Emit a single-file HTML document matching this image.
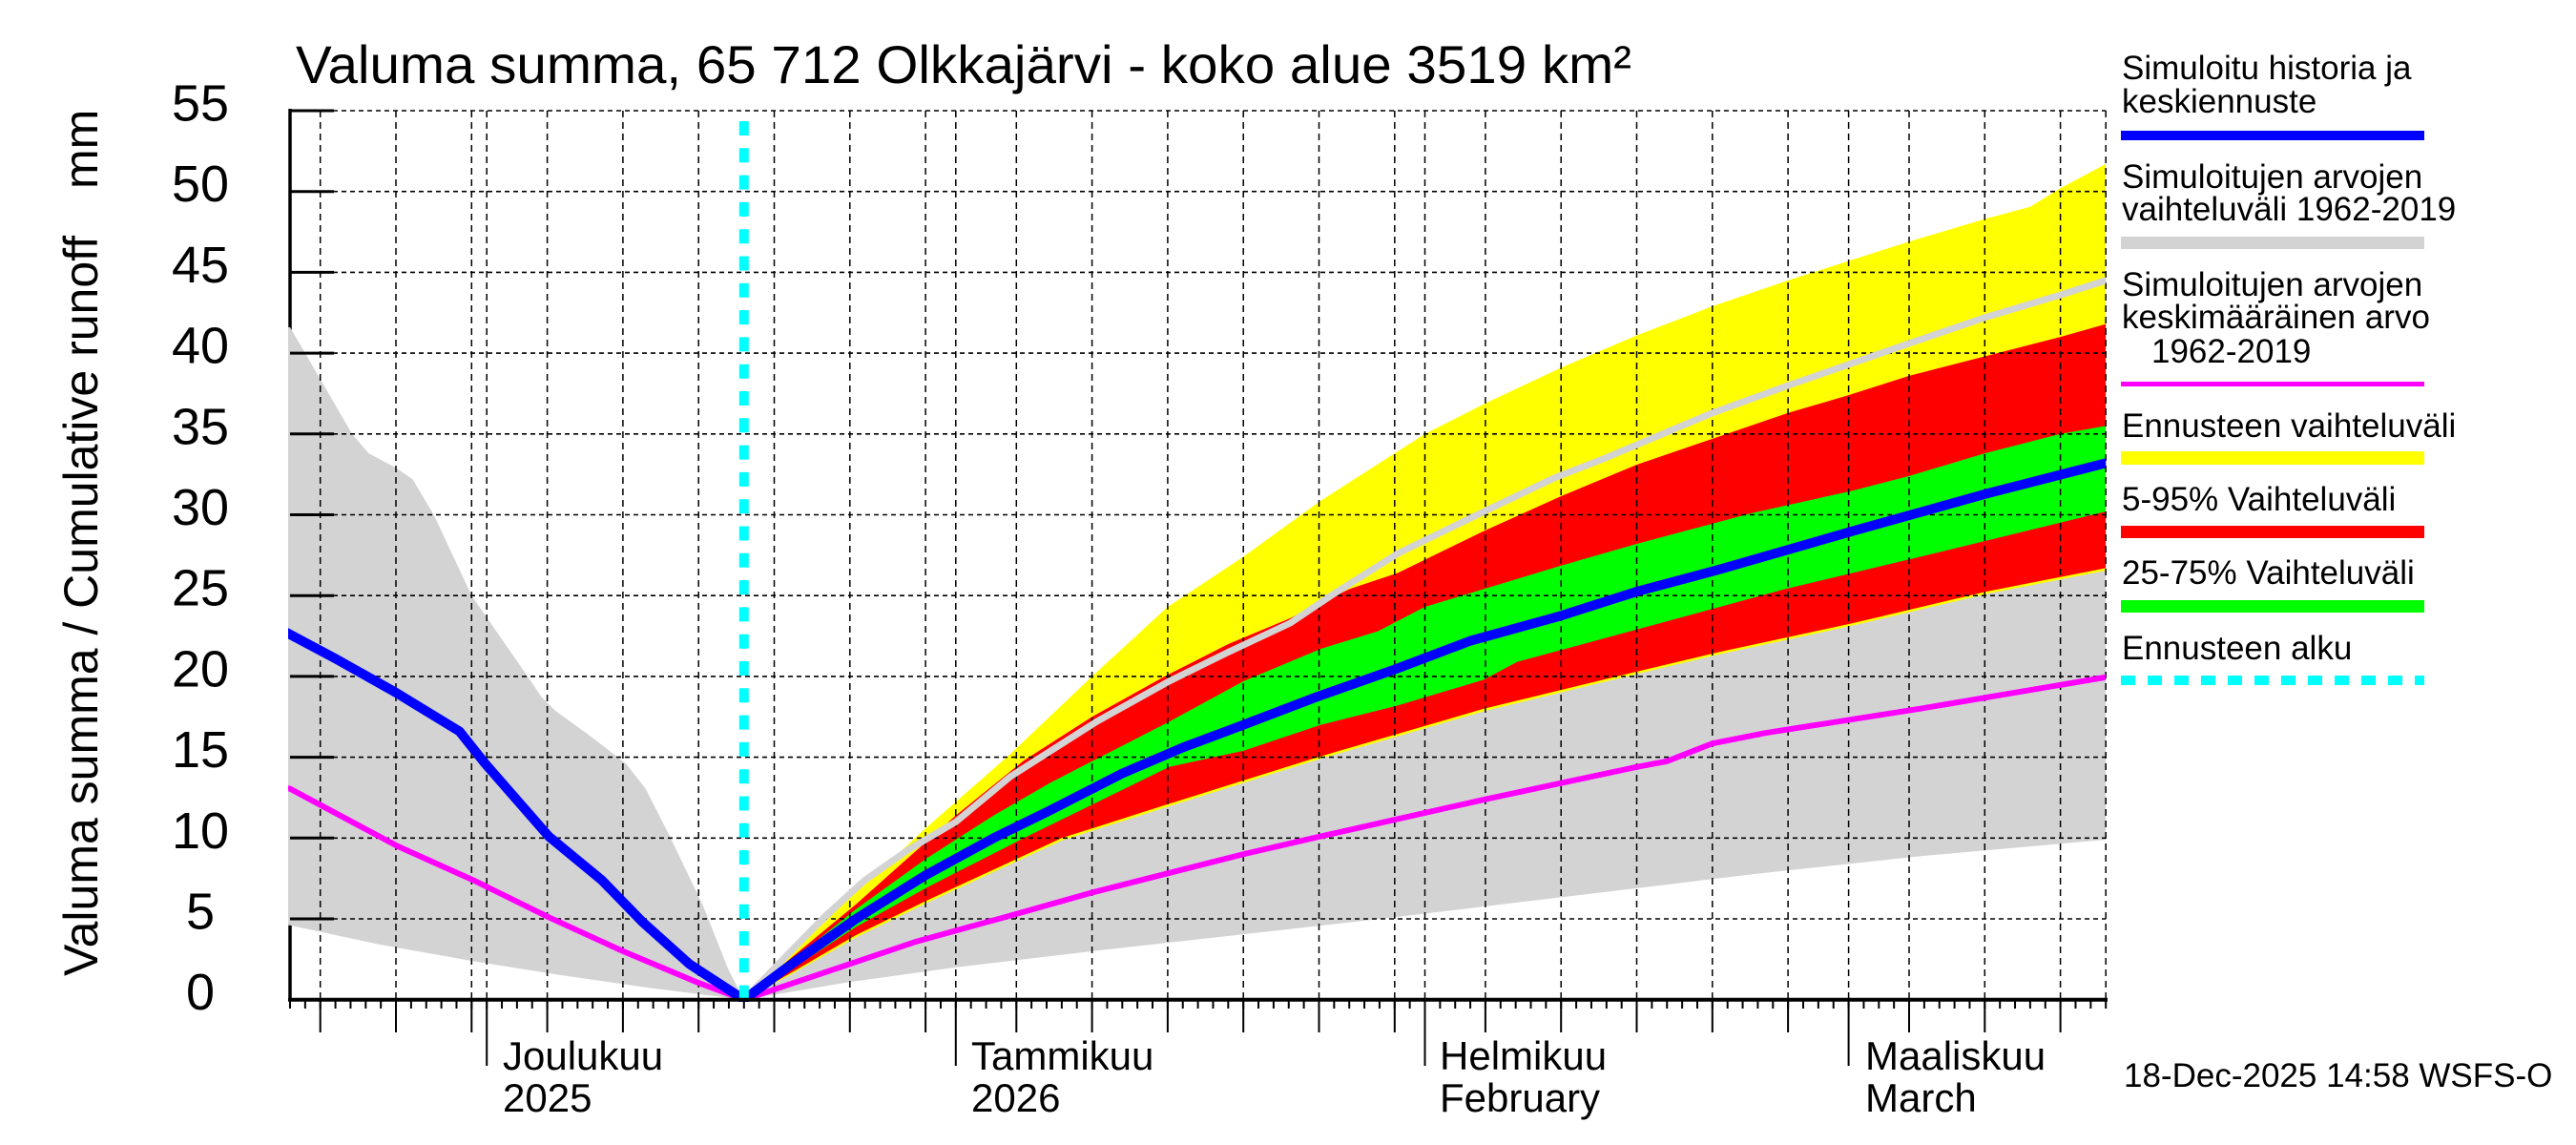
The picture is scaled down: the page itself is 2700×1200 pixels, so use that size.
<!DOCTYPE html>
<html><head><meta charset="utf-8">
<style>
html,body{margin:0;padding:0;background:#fff;}
svg{display:block;}
text{font-family:"Liberation Sans",Arial,Helvetica,sans-serif;fill:#000;}
</style></head>
<body>
<svg width="2700" height="1200" viewBox="0 0 2700 1200" xmlns="http://www.w3.org/2000/svg">
<rect width="2700" height="1200" fill="#fff"/>
<defs><clipPath id="pc"><rect x="302" y="100" width="1905.2" height="950"/></clipPath></defs>

<!-- left axis line (beneath fills) -->
<line x1="304" y1="114" x2="304" y2="1049" stroke="#000" stroke-width="3.5"/>

<!-- fills -->
<g clip-path="url(#pc)">
<g transform="translate(304,1047.7) scale(15.86,-16.94)">
<polygon fill="#d3d3d3" points="-0.2,41.6 0,41.6 1,40 4.1,35 5.2,33.8 7,32.9 8.1,32.2 9.5,30 12,25 15.7,20 16.6,18.75 17.5,17.9 20,16.2 22.2,14.6 23.5,13.05 25.1,10.1 27.3,5.8 29,1.8 30,0 33,2.9 35.4,5.2 38,7.4 40.9,9.3 44,11.0 47.6,13.8 53.3,17.2 58.1,19.7 62,21.5 66.1,23.3 68.8,25.0 73.2,27.6 78.9,30.2 83.6,32.3 86.9,33.5 94,36.3 99,38.0 107,40.6 112,42.2 117,43.6 120,44.5 120,9.9 108,8.9 97,7.8 81,6.0 73,5.1 63.5,4.1 53,3.0 44,2.0 37,1.1 30,0 24,0.7 18,1.5 12,2.4 6,3.4 0,4.6 -0.2,4.6"/>
<polygon fill="#ffff00" points="30,0 33,2.7 36.9,6.2 42,10.6 47.6,15.2 53,20.0 58,24.3 63,27.4 68,30.8 72,33.2 75,35.0 79,36.9 84,39.1 89,41.1 94,42.9 99,44.5 103,45.7 107,46.9 112,48.3 115,49.05 117,50.2 120,51.7 120,26.55 112.1,25.1 103.3,23.15 94.4,21.35 89,20.15 78.9,17.85 67.9,14.85 57.7,11.85 51,9.85 42,5.95 37.4,3.85 33,1.5 30,0"/>
<polygon fill="#ff0000" points="30,0 33,2.5 37.4,5.9 41,8.9 44,11.4 48.5,14.8 53,17.5 57.8,20 62,22 66.1,23.6 70,25.4 73.2,26.4 78.9,29.0 84,31.15 89,33.1 94,34.7 99,36.3 103,37.4 107,38.6 112,39.8 117,41.0 120,41.8 120,26.7 112.1,25.25 103.3,23.3 94.4,21.5 89,20.3 78.9,18.0 67.9,15.0 57.7,12.0 51,10 42,6.1 37.4,4.0 33,1.6 30,0"/>
<polygon fill="#00ff00" points="30,0 33,2.3 37.4,5.6 42,8.7 46.5,11.4 50.2,13.4 58.1,17.2 63,19.7 68.1,21.7 71.9,22.8 75,24.3 83.8,26.8 89,28.2 96.6,30.1 103.3,31.5 107,32.4 112,33.8 117,35.0 120,35.5 120,30.2 109.5,27.8 98.8,25.4 89,22.9 81.1,20.9 78.9,19.8 73.2,18.2 68.1,17.0 63,15.4 58.1,14.4 48.5,10 42,6.9 37.4,4.5 33,1.8 30,0"/>
</g>
</g>

<!-- grid -->
<path fill="none" stroke="#000" stroke-width="1.6" stroke-dasharray="5 4" d="M304 963H2207.2M304 878.3H2207.2M304 793.6H2207.2M304 708.9H2207.2M304 624.2H2207.2M304 539.5H2207.2M304 454.8H2207.2M304 370.1H2207.2M304 285.4H2207.2M304 200.7H2207.2M304 116H2207.2"/>
<path fill="none" stroke="#000" stroke-width="1.5" stroke-dasharray="7 5" d="M335.7 116V1047M415 116V1047M494.3 116V1047M510.2 116V1047M573.6 116V1047M652.9 116V1047M732.2 116V1047M811.5 116V1047M890.8 116V1047M970.1 116V1047M1001.8 116V1047M1065.3 116V1047M1144.6 116V1047M1223.9 116V1047M1303.2 116V1047M1382.5 116V1047M1461.8 116V1047M1493.5 116V1047M1556.9 116V1047M1636.2 116V1047M1715.5 116V1047M1794.8 116V1047M1874.1 116V1047M1937.6 116V1047M2001 116V1047M2080.3 116V1047M2159.6 116V1047M2207.2 116V1047"/>

<!-- lines -->
<g clip-path="url(#pc)">
<g transform="translate(304,1047.7) scale(15.86,-16.94)" fill="none" stroke-linejoin="round" stroke-linecap="round">
<polyline vector-effect="non-scaling-stroke" stroke="#d3d3d3" stroke-width="7" points="30,0 33,2.9 35.4,5.2 38,7.4 40.9,9.3 44,11.0 47.6,13.8 53.3,17.2 58.1,19.7 62,21.5 66.1,23.3 68.8,25.0 73.2,27.6 78.9,30.2 83.6,32.3 86.9,33.5 94,36.3 99,38.0 107,40.6 112,42.2 117,43.6 120,44.5"/>
<polyline vector-effect="non-scaling-stroke" stroke="#ff00ff" stroke-width="6" points="-0.3,13.1 0,13.05 2.1,12 7.1,9.5 12.1,7.4 17.1,5.1 22,3.0 27,1.04 30,0 41.4,3.6 47.6,5.2 53.1,6.65 63,9.0 68.1,10.1 79,12.4 89,14.4 91,14.75 94,15.85 97.5,16.5 107.7,18.0 120,19.95"/>
<polyline vector-effect="non-scaling-stroke" stroke="#0000ff" stroke-width="10" points="-0.3,22.75 0,22.6 3,21.1 7,19.0 11.2,16.6 12.9,14.6 17.1,10.1 20.6,7.4 23.3,4.8 26.4,2.2 30,0 33,2.1 37.4,5 42,7.7 46.5,10 50.2,11.7 55,14.0 59,15.6 63,17.0 67.9,18.75 73.2,20.5 78,22.2 83.8,23.7 89,25.25 94.4,26.6 103.3,29.0 112.1,31.3 120,33.2"/>
</g>
</g>

<!-- forecast start -->
<line x1="779.8" y1="127" x2="779.8" y2="1047" stroke="#00ffff" stroke-width="10" stroke-dasharray="15 13.3"/>

<!-- axes & ticks -->
<line x1="302" y1="1047.7" x2="2209" y2="1047.7" stroke="#000" stroke-width="4"/>
<path fill="none" stroke="#000" stroke-width="3" d="M304 963H350M304 878.3H350M304 793.6H350M304 708.9H350M304 624.2H350M304 539.5H350M304 454.8H350M304 370.1H350M304 285.4H350M304 200.7H350M304 116H350"/>
<line x1="303" y1="1053" x2="2209" y2="1053" stroke="#000" stroke-width="8" stroke-dasharray="2 13.86"/>
<path fill="none" stroke="#000" stroke-width="2" d="M335.7 1049V1082M415 1049V1082M494.3 1049V1082M573.6 1049V1082M652.9 1049V1082M732.2 1049V1082M811.5 1049V1082M890.8 1049V1082M970.1 1049V1082M1065.3 1049V1082M1144.6 1049V1082M1223.9 1049V1082M1303.2 1049V1082M1382.5 1049V1082M1461.8 1049V1082M1556.9 1049V1082M1636.2 1049V1082M1715.5 1049V1082M1794.8 1049V1082M1874.1 1049V1082M2001 1049V1082M2080.3 1049V1082M2159.6 1049V1082"/>
<path fill="none" stroke="#000" stroke-width="2" d="M510.2 1049V1117M1001.8 1049V1117M1493.5 1049V1117M1937.6 1049V1117"/>

<!-- title -->
<text x="310" y="87" font-size="56" textLength="1400" lengthAdjust="spacingAndGlyphs">Valuma summa, 65 712 Olkkajärvi - koko alue 3519 km²</text>

<!-- y tick labels -->
<g font-size="54" text-anchor="middle">
<text x="210" y="1058">0</text>
<text x="210" y="973.5">5</text>
<text x="210" y="888.8">10</text>
<text x="210" y="804.1">15</text>
<text x="210" y="719.4">20</text>
<text x="210" y="634.7">25</text>
<text x="210" y="550">30</text>
<text x="210" y="465.3">35</text>
<text x="210" y="380.6">40</text>
<text x="210" y="295.9">45</text>
<text x="210" y="211.2">50</text>
<text x="210" y="126.5">55</text>
</g>

<!-- y axis label -->
<text transform="translate(102,1023) rotate(-90)" font-size="50" textLength="776" lengthAdjust="spacingAndGlyphs">Valuma summa / Cumulative runoff</text>
<text transform="translate(102,198) rotate(-90)" font-size="50">mm</text>

<!-- month labels -->
<g font-size="42">
<text x="527" y="1121">Joulukuu</text>
<text x="527" y="1165">2025</text>
<text x="1018" y="1121">Tammikuu</text>
<text x="1018" y="1165">2026</text>
<text x="1509" y="1121">Helmikuu</text>
<text x="1509" y="1165">February</text>
<text x="1955" y="1121">Maaliskuu</text>
<text x="1955" y="1165">March</text>
</g>

<text x="2226" y="1139" font-size="35">18-Dec-2025 14:58 WSFS-O</text>

<!-- legend -->
<g font-size="35">
<text x="2224" y="83">Simuloitu historia ja</text>
<text x="2224" y="118">keskiennuste</text>
<text x="2224" y="197">Simuloitujen arvojen</text>
<text x="2224" y="231">vaihteluväli 1962-2019</text>
<text x="2224" y="310">Simuloitujen arvojen</text>
<text x="2224" y="344">keskimääräinen arvo</text>
<text x="2255" y="380">1962-2019</text>
<text x="2224" y="458">Ennusteen vaihteluväli</text>
<text x="2224" y="535">5-95% Vaihteluväli</text>
<text x="2224" y="612">25-75% Vaihteluväli</text>
<text x="2224" y="691">Ennusteen alku</text>
</g>
<rect x="2223" y="137" width="318" height="10" fill="#0000ff"/>
<rect x="2223" y="248" width="318" height="13" fill="#d3d3d3"/>
<rect x="2223" y="400" width="318" height="5" fill="#ff00ff"/>
<rect x="2223" y="473" width="318" height="14" fill="#ffff00"/>
<rect x="2223" y="551" width="318" height="13" fill="#ff0000"/>
<rect x="2223" y="629" width="318" height="13" fill="#00ff00"/>
<line x1="2223" y1="713" x2="2541" y2="713" stroke="#00ffff" stroke-width="10" stroke-dasharray="15 13"/>
</svg>
</body></html>
